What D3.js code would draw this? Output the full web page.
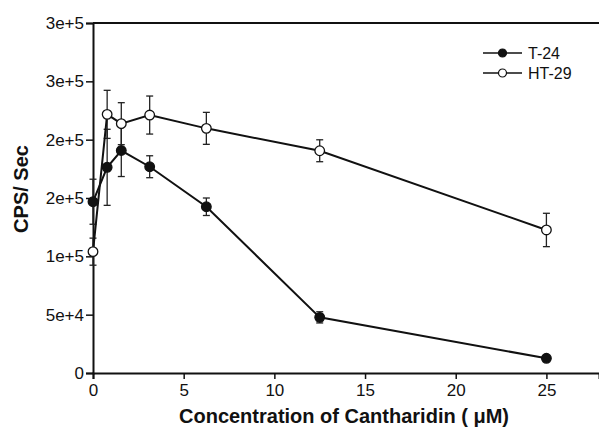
<!DOCTYPE html>
<html>
<head>
<meta charset="utf-8">
<script src="https://cdn.jsdelivr.net/npm/d3@7"></script>
<style>
  body { margin: 0; background: #fff; }
  svg { display: block; font-family: Arial, "Liberation Sans", sans-serif; }
</style>
</head>
<body>
<div id="chart"></div>
<script>
// concentrations (uM)
var doses = [0, 0.78, 1.56, 3.125, 6.25, 12.5, 25];
var t24 = [146800, 176300, 190700, 176800, 142500, 47700, 12600];
var t24Err = [19300, 32600, 22300, 9400, 7500, 4800, 1200];
var ht29 = [104000, 221700, 213700, 221100, 209700, 190500, 122600];
var ht29Err = [11600, 20600, 18000, 16300, 13700, 9400, 14300];

var yTicks = [0, 50000, 100000, 150000, 200000, 250000, 300000];
var yTickLabels = ["0", "5e+4", "1e+5", "2e+5", "2e+5", "3e+5", "3e+5"];
var xTicks = [0, 5, 10, 15, 20, 25];

var width = 599, height = 428;

var x = d3.scaleLinear().domain([0, 27.9]).range([93, 599]);
var y = d3.scaleLinear().domain([0, 300000]).range([373, 23]);

var svg = d3.select("#chart").append("svg")
    .attr("width", width)
    .attr("height", height);

// axes
var yAxis = svg.append("g")
    .attr("transform", "translate(" + x(0) + ",0)")
    .call(d3.axisLeft(y).tickValues(yTicks)
        .tickFormat(function(d, i) { return yTickLabels[i]; })
        .tickSizeOuter(0).tickSize(7).tickPadding(2));

var xAxis = svg.append("g")
    .attr("transform", "translate(0," + y(0) + ")")
    .call(d3.axisBottom(x).tickValues(xTicks).tickSizeOuter(0).tickSize(6).tickPadding(5));

[yAxis, xAxis].forEach(function(a) {
    a.select(".domain").attr("stroke", "#111").attr("stroke-width", 2);
    a.selectAll(".tick line").attr("stroke", "#111").attr("stroke-width", 1.5);
    a.selectAll(".tick text").attr("fill", "#111").style("font-size", "17px");
});

// top frame line
svg.append("line")
    .attr("x1", x(0)).attr("x2", width)
    .attr("y1", y(300000)).attr("y2", y(300000))
    .attr("stroke", "#111").attr("stroke-width", 2);

// axis titles
svg.append("text")
    .attr("x", 344).attr("y", 423)
    .attr("text-anchor", "middle")
    .style("font-size", "20px").style("font-weight", "bold")
    .attr("fill", "#111")
    .text("Concentration of Cantharidin ( \u03BCM)");

svg.append("text")
    .attr("transform", "translate(28,189) rotate(-90)")
    .attr("text-anchor", "middle")
    .style("font-size", "20px").style("font-weight", "bold")
    .attr("fill", "#111")
    .text("CPS/ Sec");

var series = [
    { name: "T-24", values: t24, errs: t24Err, fill: "#111" },
    { name: "HT-29", values: ht29, errs: ht29Err, fill: "#fff" }
];

var line = d3.line()
    .x(function(d) { return x(d.x); })
    .y(function(d) { return y(d.y); });

series.forEach(function(s) {
    var pts = doses.map(function(d, i) { return { x: d, y: s.values[i], e: s.errs[i] }; });
    var g = svg.append("g");

    // error bars
    var eb = g.selectAll(".err").data(pts).enter().append("g")
        .attr("stroke", "#222").attr("stroke-width", 1.3);
    eb.append("line")
        .attr("x1", function(d) { return x(d.x); }).attr("x2", function(d) { return x(d.x); })
        .attr("y1", function(d) { return y(d.y + d.e); }).attr("y2", function(d) { return y(d.y - d.e); });
    eb.append("line")
        .attr("x1", function(d) { return x(d.x) - 3.5; }).attr("x2", function(d) { return x(d.x) + 3.5; })
        .attr("y1", function(d) { return y(d.y + d.e); }).attr("y2", function(d) { return y(d.y + d.e); });
    eb.append("line")
        .attr("x1", function(d) { return x(d.x) - 3.5; }).attr("x2", function(d) { return x(d.x) + 3.5; })
        .attr("y1", function(d) { return y(d.y - d.e); }).attr("y2", function(d) { return y(d.y - d.e); });

    g.append("path")
        .datum(pts)
        .attr("fill", "none")
        .attr("stroke", "#111")
        .attr("stroke-width", 2)
        .attr("d", line);

    g.selectAll("circle").data(pts).enter().append("circle")
        .attr("cx", function(d) { return x(d.x); })
        .attr("cy", function(d) { return y(d.y); })
        .attr("r", 4.8)
        .attr("fill", s.fill)
        .attr("stroke", "#111")
        .attr("stroke-width", 1.3);
});

// legend
var legend = svg.append("g").selectAll("g").data(series).enter().append("g")
    .attr("transform", function(d, i) { return "translate(0," + (53 + i * 20) + ")"; });
legend.append("line")
    .attr("x1", 483).attr("x2", 522)
    .attr("stroke", "#111").attr("stroke-width", 1.6);
legend.append("circle")
    .attr("cx", 502.5).attr("r", 4)
    .attr("fill", function(d) { return d.fill; })
    .attr("stroke", "#111").attr("stroke-width", 1.2);
legend.append("text")
    .attr("x", 528).attr("dy", "0.35em")
    .style("font-size", "16px")
    .attr("fill", "#111")
    .text(function(d) { return d.name; });
</script>
</body>
</html>
